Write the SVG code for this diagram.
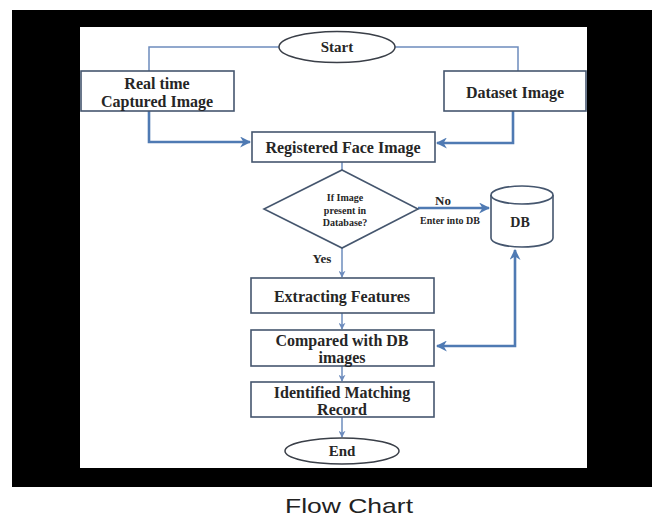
<svg xmlns="http://www.w3.org/2000/svg" width="652" height="517" viewBox="0 0 652 517">
<style>
.box{fill:#ffffff;stroke:#45566e;stroke-width:1.6}
.term{fill:#ffffff;stroke:#3a3f48;stroke-width:1.5}
.t{font-family:"Liberation Serif","Times New Roman",serif;font-weight:bold;fill:#262626;text-anchor:middle;dominant-baseline:central}
.thin{fill:none;stroke:#6d8cbd;stroke-width:1.5}
.thick{fill:none;stroke:#4f7ab3;stroke-width:2.6}
.cap{font-family:"Liberation Sans",Arial,sans-serif;fill:#222;text-anchor:middle;dominant-baseline:central}
</style>
<defs>
<marker id="ah" viewBox="0 0 10 10" refX="9" refY="5" markerWidth="11" markerHeight="11" markerUnits="userSpaceOnUse" orient="auto-start-reverse">
<path d="M0,0 L10,5 L0,10 L3,5 z" fill="#4f7ab3"/>
</marker>
<marker id="as" viewBox="0 0 10 10" refX="9" refY="5" markerWidth="7" markerHeight="7" markerUnits="userSpaceOnUse" orient="auto">
<path d="M0,0 L10,5 L0,10 L3,5 z" fill="#6d8cbd"/>
</marker>
</defs>
<rect x="0" y="0" width="652" height="517" fill="#ffffff"/>
<rect x="12" y="10" width="640" height="477" fill="#000000"/>
<rect x="80" y="27" width="507" height="441" fill="#ffffff"/>

<g id="connectors">
<polyline class="thin" points="279,47 149,47 149,71"/>
<polyline class="thin" points="395,47 518,47 518,71"/>
<polyline class="thick" points="149,111 149,142 250,142" marker-end="url(#ah)"/>
<polyline class="thick" points="513,111 513,143 437,143" marker-end="url(#ah)"/>
<line class="thin" x1="342" y1="162" x2="342" y2="170"/>
<line class="thick" x1="418" y1="208" x2="489" y2="208" marker-end="url(#ah)"/>
<line class="thin" x1="342" y1="248" x2="342" y2="277" marker-end="url(#as)"/>
<line class="thin" x1="342" y1="313" x2="342" y2="329" marker-end="url(#as)"/>
<line class="thin" x1="342" y1="366" x2="342" y2="381" marker-end="url(#as)"/>
<line class="thin" x1="342" y1="417" x2="342" y2="437" marker-end="url(#as)"/>
<polyline class="thick" points="437,346 515,346 515,250" marker-start="url(#ah)" marker-end="url(#ah)"/>
</g>

<g id="start">
<ellipse class="term" cx="337" cy="47" rx="58" ry="15.5"/>
<text class="t" x="337" y="47" font-size="15">Start</text>
</g>
<g id="realtime">
<rect class="box" x="81" y="71" width="153" height="40"/>
<text class="t" x="157" y="83" font-size="16">Real time</text>
<text class="t" x="157" y="101" font-size="16">Captured Image</text>
</g>
<g id="dataset">
<rect class="box" x="444" y="71" width="142" height="40"/>
<text class="t" x="515" y="92" font-size="16">Dataset Image</text>
</g>
<g id="registered">
<rect class="box" x="252" y="132" width="183" height="30"/>
<text class="t" x="343" y="147" font-size="16">Registered Face Image</text>
</g>
<g id="decision">
<polygon class="box" points="342,170 418,209 342,248 264,209"/>
<text class="t" x="345" y="197" font-size="10">If Image</text>
<text class="t" x="345" y="210" font-size="10">present in</text>
<text class="t" x="345" y="222" font-size="10">Database?</text>
<text class="t" x="443" y="200" font-size="13">No</text>
<text class="t" x="450" y="220" font-size="10">Enter into DB</text>
<text class="t" x="322" y="258" font-size="13">Yes</text>
</g>
<g id="db">
<path class="box" d="M491,195 V238 A31,9 0 0 0 553,238 V195"/>
<ellipse class="box" cx="522" cy="195" rx="31" ry="9"/>
<text class="t" x="520" y="222" font-size="14">DB</text>
</g>
<g id="extracting">
<rect class="box" x="251" y="278" width="183" height="35"/>
<text class="t" x="342" y="296" font-size="16">Extracting Features</text>
</g>
<g id="compared">
<rect class="box" x="251" y="330" width="183" height="36"/>
<text class="t" x="342" y="340" font-size="16">Compared with DB</text>
<text class="t" x="342" y="357" font-size="16">images</text>
</g>
<g id="identified">
<rect class="box" x="251" y="382" width="183" height="35"/>
<text class="t" x="342" y="392" font-size="16">Identified Matching</text>
<text class="t" x="342" y="409" font-size="16">Record</text>
</g>
<g id="end">
<ellipse class="term" cx="342" cy="451" rx="57" ry="13"/>
<text class="t" x="342" y="451" font-size="15">End</text>
</g>
<text class="cap" x="349" y="505" font-size="21" textLength="128" lengthAdjust="spacingAndGlyphs">Flow Chart</text>
</svg>
